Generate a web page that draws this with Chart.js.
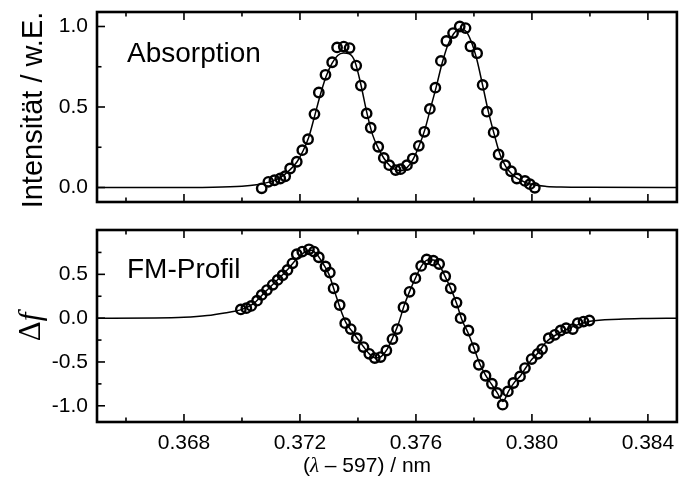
<!DOCTYPE html>
<html><head><meta charset="utf-8">
<script src="https://cdn.jsdelivr.net/npm/chart.js@4/dist/chart.umd.min.js"></script>
<style>
html,body{margin:0;padding:0;background:#fff;}
#wrap{position:relative;width:684px;height:481px;overflow:hidden;background:#fff;}
canvas{position:absolute;left:0;}
</style></head><body>
<div id="wrap">
<canvas id="cTop" width="684" height="215" style="top:0px"></canvas>
<canvas id="cBot" width="684" height="266" style="top:215px"></canvas>
</div>
<script>
// ---- data: absorption (top) ----
const absX = [0.37068,0.37091,0.37112,0.37132,0.37149,0.37166,0.37189,0.37208,0.37228,0.3725,0.37265,0.37288,0.37311,0.37328,0.37351,0.37371,0.37394,0.3741,0.3743,0.37444,0.3747,0.37489,0.37508,0.3753,0.37547,0.37569,0.37589,0.3761,0.37629,0.37648,0.37667,0.37686,0.37705,0.37728,0.37751,0.37771,0.37788,0.37811,0.3783,0.37845,0.37868,0.37885,0.37908,0.37928,0.37948,0.37976,0.37993,0.3801];
const absY = [-0.005,0.035,0.045,0.056,0.07,0.118,0.16,0.232,0.30,0.456,0.59,0.70,0.778,0.87,0.875,0.866,0.757,0.633,0.46,0.371,0.253,0.184,0.139,0.108,0.114,0.139,0.18,0.259,0.346,0.488,0.62,0.786,0.91,0.959,1.0,0.99,0.876,0.834,0.637,0.471,0.342,0.205,0.139,0.101,0.056,0.041,0.021,-0.002];
const absFitX = [0.365,0.367,0.369,0.370,0.3705,0.3709,0.3713,0.3716,0.3719,0.3721,0.3723,0.3725,0.3727,0.3729,0.3731,0.3733,0.3735,0.3737,0.3739,0.3741,0.3743,0.3745,0.3747,0.3749,0.3751,0.3753,0.3755,0.3757,0.3759,0.3761,0.3763,0.3765,0.3767,0.3769,0.3771,0.3773,0.3775,0.3777,0.3779,0.3781,0.3783,0.3785,0.3787,0.3789,0.3791,0.3793,0.3795,0.3798,0.3801,0.3805,0.381,0.382,0.385];
const absFitY = [0,0,0.002,0.008,0.017,0.032,0.06,0.1,0.16,0.225,0.31,0.44,0.575,0.69,0.77,0.82,0.835,0.83,0.78,0.64,0.47,0.33,0.245,0.18,0.135,0.11,0.105,0.125,0.175,0.255,0.355,0.49,0.625,0.77,0.885,0.955,0.985,0.975,0.91,0.795,0.635,0.47,0.33,0.205,0.13,0.085,0.056,0.03,0.015,0.007,0.003,0.001,0];

// ---- data: FM profile (bottom) ----
const fmX = [0.36996,0.37015,0.37032,0.37052,0.37068,0.37086,0.37106,0.37123,0.3714,0.37157,0.37174,0.37189,0.37208,0.37231,0.37248,0.37265,0.37288,0.37303,0.37316,0.37337,0.37356,0.37375,0.37396,0.37419,0.37439,0.37458,0.37478,0.37498,0.37519,0.37535,0.37557,0.37578,0.37598,0.37618,0.37637,0.3766,0.3768,0.37701,0.3772,0.3774,0.37754,0.37781,0.378,0.37817,0.3784,0.37862,0.3788,0.37899,0.37917,0.37936,0.37959,0.37976,0.37999,0.3802,0.38035,0.38058,0.38079,0.38099,0.38118,0.38141,0.38158,0.38178,0.38198];
const fmY = [0.10,0.114,0.14,0.20,0.265,0.32,0.38,0.436,0.49,0.55,0.626,0.73,0.76,0.786,0.76,0.695,0.59,0.52,0.34,0.15,-0.057,-0.125,-0.228,-0.33,-0.407,-0.456,-0.444,-0.369,-0.239,-0.125,0.125,0.30,0.456,0.596,0.67,0.656,0.618,0.478,0.34,0.178,0.0,-0.141,-0.342,-0.532,-0.657,-0.748,-0.854,-0.987,-0.836,-0.74,-0.665,-0.57,-0.467,-0.407,-0.353,-0.228,-0.19,-0.141,-0.114,-0.125,-0.057,-0.039,-0.027];
const fmFitX = [0.365,0.367,0.368,0.3688,0.3694,0.370,0.3704,0.3708,0.3712,0.3716,0.3719,0.3722,0.3724,0.3726,0.3728,0.373,0.3732,0.3734,0.3736,0.3738,0.374,0.3742,0.3744,0.3746,0.3748,0.375,0.3752,0.3754,0.3756,0.3758,0.376,0.3762,0.3764,0.3766,0.3768,0.377,0.3772,0.3774,0.3776,0.3778,0.378,0.3782,0.3784,0.3786,0.3788,0.379,0.3792,0.3794,0.3796,0.3798,0.380,0.3802,0.3805,0.381,0.3815,0.382,0.383,0.384,0.385];
const fmFitY = [0,0.002,0.01,0.03,0.06,0.1,0.165,0.3,0.43,0.565,0.68,0.76,0.775,0.72,0.62,0.5,0.3,0.1,-0.06,-0.15,-0.24,-0.33,-0.41,-0.455,-0.44,-0.36,-0.22,-0.06,0.15,0.32,0.47,0.6,0.665,0.665,0.61,0.48,0.34,0.17,-0.03,-0.17,-0.34,-0.52,-0.65,-0.75,-0.85,-0.95,-0.83,-0.73,-0.66,-0.56,-0.47,-0.4,-0.27,-0.16,-0.085,-0.035,-0.012,-0.004,0];

// ---- ticks ----
const xMajorTicks = [0.368,0.372,0.376,0.380,0.384];
const xMinorTicks = [0.366,0.370,0.374,0.378,0.382];
const absMajorTicks = [0.0,0.5,1.0];
const absMinorTicks = [0.25,0.75];
const fmMajorTicks = [-1.0,-0.5,0.0,0.5];
const fmMinorTicks = [-0.75,-0.25,0.25,0.75];

const SANS = '"Liberation Sans", Arial, Helvetica, sans-serif';
const SERIF = '"Liberation Serif", "DejaVu Serif", serif';

function pts(xs, ys){ return xs.map((x,i)=>({x:x, y:ys[i]})); }

function drawParts(ctx, parts, x, y, align){
  let w = 0;
  parts.forEach(p=>{ ctx.font = p.font; w += ctx.measureText(p.t).width; });
  let cx = align === 'center' ? x - w/2 : x;
  parts.forEach(p=>{ ctx.font = p.font; ctx.fillText(p.t, cx, y); cx += ctx.measureText(p.t).width; });
}

const framePlugin = {
  id: 'frameTicks',
  afterDraw(chart, args, o){
    const ctx = chart.ctx, a = chart.chartArea;
    const xs = chart.scales.x, ys = chart.scales.y;
    ctx.save();
    ctx.strokeStyle = '#000';
    ctx.lineWidth = 1.6;
    const tick = (x1,y1,x2,y2)=>{ ctx.beginPath(); ctx.moveTo(x1,y1); ctx.lineTo(x2,y2); ctx.stroke(); };
    xMajorTicks.forEach(v=>{ const px = xs.getPixelForValue(v); tick(px,a.bottom,px,a.bottom-8); tick(px,a.top,px,a.top+8); });
    xMinorTicks.forEach(v=>{ const px = xs.getPixelForValue(v); tick(px,a.bottom,px,a.bottom-4.5); tick(px,a.top,px,a.top+4.5); });
    o.yMajor.forEach(v=>{ const py = ys.getPixelForValue(v); tick(a.left,py,a.left+8,py); });
    o.yMinor.forEach(v=>{ const py = ys.getPixelForValue(v); tick(a.left,py,a.left+4.5,py); });
    ctx.lineWidth = 2.6;
    ctx.strokeRect(a.left, a.top, a.right - a.left, a.bottom - a.top);
    ctx.fillStyle = '#000';
    ctx.textBaseline = 'alphabetic';
    ctx.textAlign = 'left';
    if (o.label){ ctx.font = o.labelFont; ctx.fillText(o.label, o.labelX, o.labelY); }
    if (o.yTitleParts){
      ctx.save();
      ctx.translate(o.yTitleX, o.yTitleY);
      ctx.rotate(-Math.PI/2);
      drawParts(ctx, o.yTitleParts, 0, 0, 'center');
      ctx.restore();
    }
    if (o.xTitleParts){ drawParts(ctx, o.xTitleParts, o.xTitleX, o.xTitleY, 'center'); }
    ctx.restore();
  }
};

function makeChart(id, circles, fit, yMin, yMax, yMajor, showXLabels, xAxisH, padTop, pluginOpts){
  return new Chart(document.getElementById(id), {
    type: 'scatter',
    data: { datasets: [
      { data: fit, showLine: true, pointRadius: 0, borderColor: '#000', borderWidth: 1.5, cubicInterpolationMode: 'monotone', fill: false, order: 2 },
      { data: circles, showLine: false, pointRadius: 4.7, pointBorderWidth: 2.4, borderColor: '#000', pointBorderColor: '#000', pointBackgroundColor: 'rgba(0,0,0,0)', backgroundColor: 'rgba(0,0,0,0)', order: 1 }
    ]},
    options: {
      responsive: false, animation: false, devicePixelRatio: 1, events: [],
      layout: { padding: { top: padTop, right: 1, left: 0, bottom: 0 } },
      plugins: { legend: { display: false }, tooltip: { enabled: false }, frameTicks: pluginOpts },
      scales: {
        x: {
          type: 'linear', min: 0.365, max: 0.385,
          grid: { display: false, drawTicks: false }, border: { display: false },
          afterBuildTicks: s => { s.ticks = xMajorTicks.map(v=>({value:v})); },
          afterFit: s => { s.height = xAxisH; s.paddingLeft = 0; s.paddingRight = 0; },
          ticks: { display: showXLabels, padding: 9, color: '#000', font: { family: SANS, size: 21 }, callback: v => v.toFixed(3) }
        },
        y: {
          type: 'linear', min: yMin, max: yMax,
          grid: { display: false, drawTicks: false }, border: { display: false },
          afterBuildTicks: s => { s.ticks = yMajor.map(v=>({value:v})); },
          afterFit: s => { s.width = 97; s.paddingTop = 0; s.paddingBottom = 0; },
          ticks: { padding: 9, color: '#000', font: { family: SANS, size: 21 }, callback: v => v.toFixed(1) }
        }
      }
    },
    plugins: [framePlugin]
  });
}

makeChart('cTop', pts(absX, absY), pts(absFitX, absFitY), -0.09, 1.09, absMajorTicks, false, 13, 12, {
  yMajor: absMajorTicks, yMinor: absMinorTicks,
  label: 'Absorption', labelFont: '28px ' + SANS, labelX: 127, labelY: 62,
  yTitleParts: [{ t: 'Intensität / w.E.', font: '29px ' + SANS }], yTitleX: 42, yTitleY: 110
});

makeChart('cBot', pts(fmX, fmY), pts(fmFitX, fmFitY), -1.185, 1.006, fmMajorTicks, true, 59, 15, {
  yMajor: fmMajorTicks, yMinor: fmMinorTicks,
  label: 'FM-Profil', labelFont: '28px ' + SANS, labelX: 127, labelY: 63,
  yTitleParts: [{ t: '\u0394', font: '31px ' + SERIF }, { t: 'f', font: 'italic 31px ' + SERIF }], yTitleX: 40, yTitleY: 112,
  xTitleParts: [{ t: '(', font: '21px ' + SANS }, { t: '\u03bb', font: 'italic 21px ' + SERIF }, { t: ' \u2013 597) / nm', font: '21px ' + SANS }], xTitleX: 367, xTitleY: 257
});
</script>
</body></html>
